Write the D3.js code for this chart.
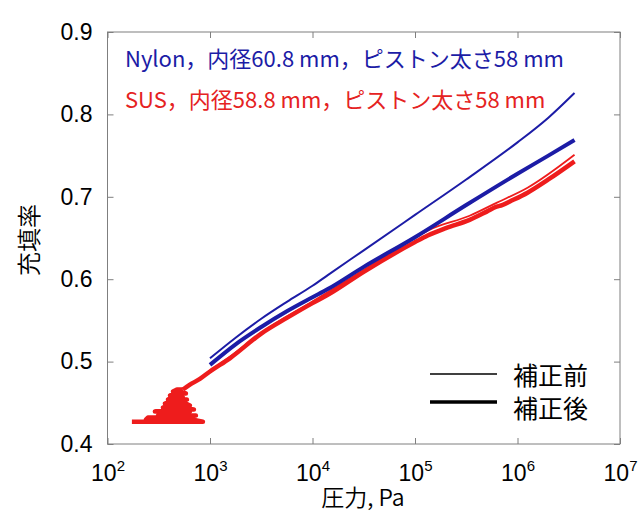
<!DOCTYPE html>
<html>
<head>
<meta charset="utf-8">
<script src="https://cdn.jsdelivr.net/npm/d3@7"></script>
<style>
  html, body { margin: 0; padding: 0; background: #fff; }
  svg { display: block; }
</style>
</head>
<body>
<svg id="chart" width="640" height="514"></svg>
<script>
// Axis ticks
const pressureTicks = [1e2, 1e3, 1e4, 1e5, 1e6, 1e7];
const fillTicks = [0.4, 0.5, 0.6, 0.7, 0.8, 0.9];

// Nylon cylinder, before correction (thin blue)
const nylonRawP = [1000, 1778, 3162, 5623, 10000, 14100, 31600, 100000, 316000, 1000000, 2000000, 3600000];
const nylonRawV = [0.504, 0.529, 0.552, 0.5725, 0.592, 0.605, 0.635, 0.678, 0.721, 0.766, 0.796, 0.826];

// Nylon cylinder, after correction (thick blue)
const nylonCorP = [1000, 1778, 3162, 5623, 10000, 14100, 31600, 100000, 316000, 1000000, 2000000, 3600000];
const nylonCorV = [0.496, 0.521, 0.542, 0.561, 0.578, 0.588, 0.615, 0.651, 0.690, 0.728, 0.750, 0.769];

// SUS cylinder, before correction (thin red)
const susRawP = [1000, 1563, 3162, 10000, 31600, 100000, 133000, 341000, 631000, 1253000, 3600000];
const susRawV = [0.489, 0.506, 0.535, 0.573, 0.611, 0.650, 0.659, 0.677, 0.693, 0.711, 0.751];

// SUS cylinder, after correction: start-up below 1 kPa, where the pressure swings back and forth
const susStartP = [173, 853, 666, 237, 248, 532, 729, 311, 325, 557, 637, 290, 372, 697, 509, 347, 389, 637,
                   582, 363, 407, 509, 596, 389, 425, 544, 498, 407, 445, 582, 509, 435, 476, 544];
const susStartV = [0.4271, 0.4271, 0.4297, 0.4297, 0.4322, 0.4322, 0.4346, 0.4346, 0.4370, 0.4370, 0.4394, 0.4394, 0.4419, 0.4419, 0.4443, 0.4443, 0.4467, 0.4467,
                   0.4491, 0.4491, 0.4516, 0.4516, 0.4540, 0.4540, 0.4564, 0.4564, 0.4589, 0.4589, 0.4613, 0.4613, 0.4637, 0.4637, 0.4661, 0.4661];

// SUS cylinder, after correction: steady compression (thick red)
const susCorP = [544, 637, 797, 1000, 1563, 3162, 5623, 10000, 14100, 31600, 100000, 133000, 200000, 341000, 501000, 625000, 708000, 900000, 1253000, 2000000, 3600000];
const susCorV = [0.4661, 0.472, 0.479, 0.488, 0.504, 0.534, 0.553, 0.571, 0.581, 0.609, 0.645, 0.653, 0.662, 0.672, 0.682, 0.688, 0.690, 0.696, 0.705, 0.721, 0.743];

const notes = ["Nylon，内径60.8 mm，ピストン太さ58 mm", "SUS，内径58.8 mm，ピストン太さ58 mm"];
const legendLabels = ["補正前", "補正後"];

const BLUE = "#1c1ca6";
const RED = "#ee1c1c";
const AXIS = "#7f7f7f";

const svg = d3.select("#chart");
svg.append("rect").attr("width", 640).attr("height", 514).attr("fill", "#fff");

const plotL = 107.5, plotR = 620, plotT = 32, plotB = 444;
const x = d3.scaleLog().domain([1e2, 1e7]).range([plotL, plotR]);
const y = d3.scaleLinear().domain([0.4, 0.9]).range([plotB, plotT]);

const tickFont = "'Liberation Sans', Arial, sans-serif";
const cjkFont = "'Noto Sans CJK JP', sans-serif";

// Frame
svg.append("rect")
  .attr("x", plotL).attr("y", plotT)
  .attr("width", plotR - plotL).attr("height", plotB - plotT)
  .attr("fill", "none").attr("stroke", AXIS).attr("stroke-width", 1);

function styleAxis(g) {
  g.select(".domain").remove();
  g.selectAll(".tick line").attr("stroke", AXIS);
  g.selectAll(".tick text").attr("fill", "#000").attr("font-family", tickFont).attr("font-size", 23);
}

// Bottom axis with powers of ten
const gx = svg.append("g")
  .attr("transform", `translate(0,${plotB})`)
  .call(d3.axisBottom(x).tickValues(pressureTicks).tickSizeInner(-6).tickSizeOuter(0).tickFormat(() => ""))
  .call(styleAxis);
gx.selectAll(".tick text").each(function(d) {
  const t = d3.select(this).attr("y", 37).attr("dy", null);
  t.append("tspan").text("10");
  t.append("tspan").attr("dy", -10).attr("font-size", 15).text(Math.round(Math.log10(d)));
});

// Top axis, ticks only
svg.append("g")
  .attr("transform", `translate(0,${plotT})`)
  .call(d3.axisTop(x).tickValues(pressureTicks).tickSizeInner(-6).tickSizeOuter(0).tickFormat(() => ""))
  .call(styleAxis);

// Left axis
svg.append("g")
  .attr("transform", `translate(${plotL},0)`)
  .call(d3.axisLeft(y).tickValues(fillTicks).tickSizeInner(-6).tickSizeOuter(0).tickPadding(15).tickFormat(d3.format(".1f")))
  .call(styleAxis);

// Right axis, ticks only
svg.append("g")
  .attr("transform", `translate(${plotR},0)`)
  .call(d3.axisRight(y).tickValues(fillTicks).tickSizeInner(-6).tickSizeOuter(0).tickFormat(() => ""))
  .call(styleAxis);

// Axis titles
svg.append("text")
  .attr("transform", `translate(27,240) rotate(-90)`)
  .attr("text-anchor", "middle").attr("dominant-baseline", "central")
  .attr("font-family", cjkFont).attr("font-size", 24).attr("font-weight", 350).attr("fill", "#000")
  .text("充填率");
svg.append("text")
  .attr("x", 363).attr("y", 506)
  .attr("text-anchor", "middle")
  .attr("font-family", cjkFont).attr("font-size", 23).attr("font-weight", 350).attr("fill", "#000")
  .text("圧力, Pa");

// Curves
const smooth = d3.line().curve(d3.curveMonotoneX).x(d => x(d[0])).y(d => y(d[1]));
const straight = d3.line().x(d => x(d[0])).y(d => y(d[1]));
const zipSeries = (P, V) => P.map((p, i) => [p, V[i]]);

const series = [
  { data: zipSeries(susRawP, susRawV), color: RED, width: 1.8, gen: smooth },
  { data: zipSeries(susStartP, susStartV), color: RED, width: 4.5, gen: straight },
  { data: zipSeries(susCorP, susCorV), color: RED, width: 4.5, gen: smooth },
  { data: zipSeries(nylonRawP, nylonRawV), color: BLUE, width: 2, gen: smooth },
  { data: zipSeries(nylonCorP, nylonCorV), color: BLUE, width: 4, gen: smooth }
];
svg.append("g").selectAll("path")
  .data(series)
  .join("path")
  .attr("d", d => d.gen(d.data))
  .attr("fill", "none")
  .attr("stroke", d => d.color)
  .attr("stroke-width", d => d.width)
  .attr("stroke-linejoin", "round")
  .attr("stroke-linecap", "butt");

// Notes
svg.append("g").selectAll("text")
  .data(notes)
  .join("text")
  .attr("x", 125)
  .attr("y", (d, i) => 67 + i * 41)
  .attr("font-family", cjkFont).attr("font-size", 22)
  .attr("fill", (d, i) => i === 0 ? BLUE : "#e52222")
  .text(d => d);

// Legend
const lg = svg.append("g");
lg.selectAll("line")
  .data(legendLabels)
  .join("line")
  .attr("x1", 430).attr("x2", 497)
  .attr("y1", (d, i) => 374 + i * 28).attr("y2", (d, i) => 374 + i * 28)
  .attr("stroke", "#000").attr("stroke-width", (d, i) => i === 0 ? 1.5 : 3.3);
lg.selectAll("text")
  .data(legendLabels)
  .join("text")
  .attr("x", 513)
  .attr("y", (d, i) => 374 + i * 33)
  .attr("dominant-baseline", "central")
  .attr("font-family", cjkFont).attr("font-size", 25).attr("fill", "#000")
  .text(d => d);
</script>
</body>
</html>
